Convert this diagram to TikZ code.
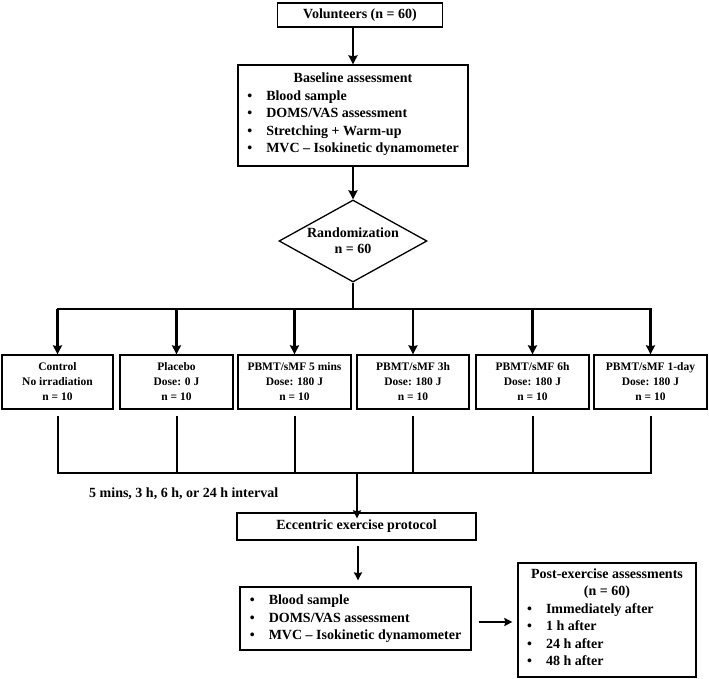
\documentclass[tikz,border=0pt]{standalone}
\usepackage{fontspec}
\setmainfont{Liberation Serif}
\usetikzlibrary{shapes.geometric,arrows.meta}
\newcommand{\bul}{\makebox[19pt][l]{\textbullet}}
\begin{document}
\begin{tikzpicture}[x=1pt,y=-1pt,
  box/.style={draw,line width=1.3pt,inner sep=0pt,align=center,font=\bfseries\fontsize{14}{17.5}\selectfont},
  grp/.style={draw,line width=1.3pt,inner sep=0pt,align=center,minimum height=54pt,font=\bfseries\fontsize{11.5}{15}\selectfont},
  arr/.style={line width=2.2pt,-{Stealth[length=9pt,width=9pt,inset=1pt]}},
  ln/.style={line width=2pt},
  arrs/.style={line width=1.8pt,-{Stealth[length=8pt,width=8pt,inset=1pt]}}]
\useasboundingbox (0,0) rectangle (709,679);
\fill[white] (0,0) rectangle (709,679);

\node[box,minimum width=165pt,minimum height=24pt] (vol) at (360,15) {Volunteers (n = 60)};
\node[box,minimum width=230pt,minimum height=101pt] (base) at (353,115.5) {Baseline assessment\\
  \begin{tabular}[t]{@{}l@{}}
  \bul Blood sample\\
  \bul DOMS/VAS assessment\\
  \bul Stretching + Warm-up\\
  \bul MVC -- Isokinetic dynamometer
  \end{tabular}};
\node[draw,line width=1.3pt,diamond,aspect=1.8,inner sep=0pt,minimum width=148pt,minimum height=82pt,align=center,font=\bfseries\fontsize{14}{16}\selectfont] (rand) at (353,241) {Randomization\\n = 60};

\node[grp,minimum width=111pt] (g1) at (57.5,382) {Control\\No irradiation\\n = 10};
\node[grp,minimum width=113pt] (g2) at (176.5,382) {Placebo\\Dose: 0 J\\n = 10};
\node[grp,minimum width=113pt] (g3) at (294.5,382) {PBMT/sMF 5 mins\\Dose: 180 J\\n = 10};
\node[grp,minimum width=112pt] (g4) at (413,382) {PBMT/sMF 3h\\Dose: 180 J\\n = 10};
\node[grp,minimum width=113pt] (g5) at (532.5,382) {PBMT/sMF 6h\\Dose: 180 J\\n = 10};
\node[grp,minimum width=113pt] (g6) at (650.5,382) {PBMT/sMF 1-day\\Dose: 180 J\\n = 10};

\coordinate (bus) at (353,309);
\coordinate (busb) at (357,473);

\node[font=\bfseries\fontsize{14}{17}\selectfont,anchor=west,inner sep=0pt] (intv) at (89,494) {5 mins, 3 h, 6 h, or 24 h interval};

\node[box,minimum width=239pt,minimum height=27pt] (ecc) at (356.5,526.5) {Eccentric exercise protocol};
\node[box,minimum width=231pt,minimum height=63pt] (post1) at (355.5,618.5) {\begin{tabular}{@{}l@{}}
  \bul Blood sample\\
  \bul DOMS/VAS assessment\\
  \bul MVC -- Isokinetic dynamometer
  \end{tabular}};
\node[box,minimum width=178pt,minimum height=114pt] (post2) at (607,620) {Post-exercise assessments\\(n = 60)\\
  \begin{tabular}[t]{@{}p{160pt}@{}}
  \bul Immediately after\\
  \bul 1 h after\\
  \bul 24 h after\\
  \bul 48 h after
  \end{tabular}};

% top connectors
\draw[arr] (vol.south -| base.north) -- (base.north);
\draw[arr] (base.south) -- (rand.north);
\draw[ln] (rand.south) -- (rand.south |- bus);
\draw[ln,line cap=rect] (g1.north |- bus) -- (g6.north |- bus);
\foreach \g in {g1,g2,g3,g4,g5,g6}{
  \draw[arr] (\g.north |- bus) -- (\g.north);
}
% bottom connectors
\foreach \g in {g1,g2,g3,g4,g5,g6}{
  \draw[ln] ([yshift=-6pt]\g.south) -- (\g.south |- busb);
}
\draw[ln,line cap=rect] (g1.south |- busb) -- (g6.south |- busb);
\draw[arrs] (busb) -- ([yshift=-6pt]ecc.north -| busb);
\draw[arrs] ([yshift=-5pt]ecc.south -| 358,0) -- ([yshift=6pt]post1.north -| 358,0);
\draw[arrs] ([xshift=7pt]post1.east |- 0,622) -- ([xshift=-5pt]post2.west |- 0,622);
\end{tikzpicture}
\end{document}
